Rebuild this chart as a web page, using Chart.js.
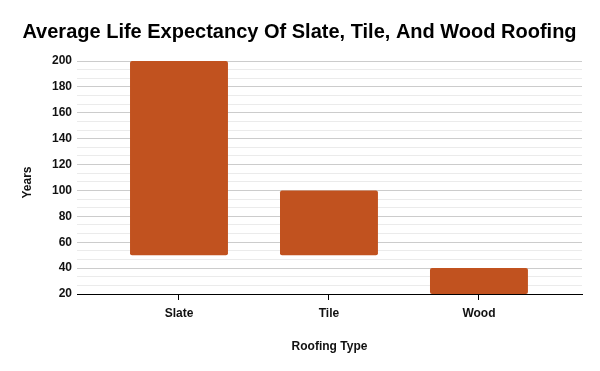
<!DOCTYPE html>
<html>
<head>
<meta charset="utf-8">
<script src="https://cdn.jsdelivr.net/npm/chart.js@4/dist/chart.umd.min.js"></script>
<style>
    html, body { margin: 0; padding: 0; background: #fff; }
    #chart { display: block; }
</style>
</head>
<body>
<canvas id="chart" width="600" height="371"></canvas>
<script>
// ========== Data ==========

const categories = ['Slate', 'Tile', 'Wood'];
const lowYears = [50, 50, 20];
const highYears = [200, 100, 40];
const yMin = 20;
const yMax = 200;
const majorStep = 20;
const minorPerMajor = 3;

// ========== Chart ==========

Chart.defaults.font.family = "'Liberation Sans', Arial, sans-serif";
Chart.defaults.color = '#222';

const points = categories.map((name, i) => ({ x: i, y: [lowYears[i], highYears[i]] }));

function isMajor(v) {
    return Math.abs(v / majorStep - Math.round(v / majorStep)) < 1e-6;
}

const ctx = document.getElementById('chart').getContext('2d');

new Chart(ctx, {
    type: 'bar',
    data: {
        datasets: [{
            data: points,
            backgroundColor: '#C1521F',
            borderRadius: 2,
            borderSkipped: false,
            barPercentage: 0.653,
            categoryPercentage: 1
        }]
    },
    options: {
        responsive: false,
        animation: false,
        layout: { padding: { top: 0, right: 18, bottom: 0, left: 17 } },
        plugins: {
            legend: { display: false },
            tooltip: { enabled: false },
            title: {
                display: true,
                text: 'Average Life Expectancy Of Slate, Tile, And Wood Roofing',
                color: '#000',
                font: { size: 20, weight: 'bold' },
                padding: { top: 20, bottom: 17 }
            }
        },
        scales: {
            x: {
                type: 'linear',
                offset: false,
                min: -0.68,
                max: 2.687,
                afterBuildTicks: scale => {
                    scale.ticks = categories.map((c, i) => ({ value: i }));
                },
                afterFit: scale => { scale.height = 77; },
                ticks: {
                    autoSkip: false,
                    maxRotation: 0,
                    padding: 6,
                    color: '#111',
                    font: { size: 12, weight: 'bold' },
                    callback: value => categories[value]
                },
                grid: {
                    offset: false,
                    drawOnChartArea: true,
                    drawTicks: true,
                    tickLength: 6,
                    color: 'rgba(0,0,0,0)',
                    tickColor: '#000',
                    tickWidth: 1
                },
                border: { display: true, color: '#000', width: 1 },
                title: {
                    display: true,
                    text: 'Roofing Type',
                    color: '#111',
                    font: { size: 12, weight: 'bold' },
                    padding: { top: 4, bottom: 17 }
                }
            },
            y: {
                min: yMin,
                max: yMax,
                afterBuildTicks: scale => {
                    const ticks = [];
                    const n = (yMax - yMin) / majorStep * minorPerMajor;
                    for (let i = 0; i <= n; i++) {
                        ticks.push({ value: yMin + i * majorStep / minorPerMajor });
                    }
                    scale.ticks = ticks;
                },
                afterFit: scale => { scale.width = 60; },
                ticks: {
                    autoSkip: false,
                    padding: 5,
                    color: '#111',
                    font: { size: 12, weight: 'bold' },
                    callback: value => isMajor(value) ? Math.round(value) : ''
                },
                grid: {
                    drawTicks: false,
                    color: c => isMajor(c.tick.value) ? '#cccccc' : '#ebebeb'
                },
                border: { display: false },
                title: {
                    display: true,
                    text: 'Years   ',
                    color: '#111',
                    font: { size: 12, weight: 'bold' },
                    padding: { top: 3, bottom: 4 }
                }
            }
        }
    }
});
</script>
</body>
</html>
